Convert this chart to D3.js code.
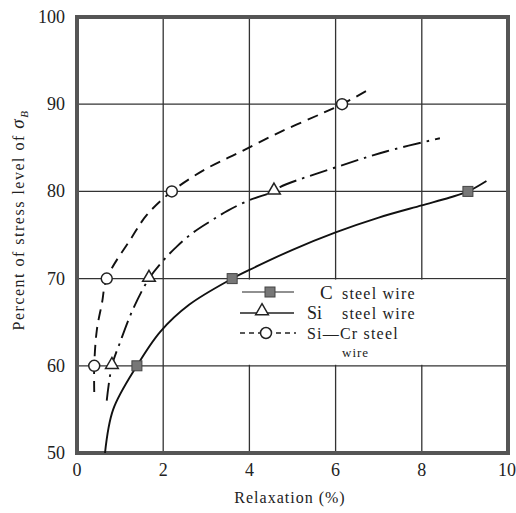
<!DOCTYPE html>
<html>
<head>
<meta charset="utf-8">
<script src="https://cdn.jsdelivr.net/npm/d3@7"></script>
<style>
  body { margin: 0; background: #fff; }
  svg text { font-family: "Times New Roman", "Liberation Serif", "Nimbus Roman", "DejaVu Serif", Times, serif; }
</style>
</head>
<body>
<div id="chart"></div>
<script>
// tick labels
const xTicks = [0, 2, 4, 6, 8, 10];
const yTicks = [50, 60, 70, 80, 90, 100];

// measured points (markers)
const cPoints = [[1.39, 60], [3.6, 70], [9.07, 80]];
const siPoints = [[0.81, 60], [1.67, 70], [4.57, 80]];
const sicrPoints = [[0.4, 60], [0.69, 70], [2.2, 80], [6.15, 90]];

// fitted curves
const cCurve = [[0.65, 50], [0.84, 55], [1.39, 60], [1.93, 63.9], [2.6, 67], [3.6, 70], [4.0, 71], [5.0, 73.3], [6.0, 75.3], [7.0, 77.0], [8.0, 78.4], [8.65, 79.3], [9.07, 80], [9.5, 81.2]];
const siCurve = [[0.69, 56], [0.81, 60], [1.0, 62.7], [1.3, 66.5], [1.67, 70], [1.97, 71.9], [2.32, 73.7], [2.7, 75.3], [3.1, 76.6], [3.5, 77.8], [4.0, 79], [4.57, 80], [4.71, 80.5], [6.03, 82.8], [7.19, 84.6], [8.42, 86.1]];
const sicrCurve = [[0.4, 57], [0.4, 60], [0.46, 64.1], [0.58, 67.2], [0.69, 70], [1.28, 74.8], [1.62, 77.3], [2.2, 80], [3.0, 82.6], [3.78, 84.5], [4.71, 86.8], [5.71, 89], [6.15, 90], [6.78, 91.7]];

const width = 516, height = 513;
const svg = d3.select("#chart").append("svg")
  .attr("width", width).attr("height", height);

const x = d3.scaleLinear().domain([0, 10]).range([77, 508]);
const y = d3.scaleLinear().domain([50, 100]).range([453, 17]);

// grid
svg.append("g").selectAll("line").data(xTicks.slice(1, -1)).enter().append("line")
  .attr("x1", d => x(d)).attr("x2", d => x(d))
  .attr("y1", y(100)).attr("y2", y(50))
  .attr("stroke", "#333").attr("stroke-width", 1.3);
svg.append("g").selectAll("line").data(yTicks.slice(1, -1)).enter().append("line")
  .attr("x1", x(0)).attr("x2", x(10))
  .attr("y1", d => y(d)).attr("y2", d => y(d))
  .attr("stroke", "#333").attr("stroke-width", 1.3);

// legend background covers grid
svg.append("rect")
  .attr("x", 238).attr("y", y(70) + 1)
  .attr("width", x(10) - 238).attr("height", y(60) - y(70) - 2)
  .attr("fill", "#fff");

// frame
svg.append("rect")
  .attr("x", x(0)).attr("y", y(100))
  .attr("width", x(10) - x(0)).attr("height", y(50) - y(100))
  .attr("fill", "none").attr("stroke", "#555").attr("stroke-width", 4);

// tick labels
svg.append("g").selectAll("text").data(xTicks).enter().append("text")
  .attr("x", d => x(d)).attr("y", 476)
  .attr("text-anchor", d => d === 10 ? "end" : "middle")
  .attr("dx", d => d === 10 ? 8 : 0)
  .attr("fill", "#222")
  .style("font-size", "18px")
  .text(d => d);
svg.append("g").selectAll("text").data(yTicks).enter().append("text")
  .attr("x", 65).attr("y", d => y(d) + 6)
  .attr("text-anchor", "end")
  .attr("fill", "#222")
  .style("font-size", "18px")
  .text(d => d);

// axis titles
svg.append("text")
  .attr("x", 290).attr("y", 503)
  .attr("text-anchor", "middle")
  .attr("fill", "#222")
  .style("font-size", "16px")
  .style("letter-spacing", "1px")
  .text("Relaxation (%)");

const yt = svg.append("text")
  .attr("transform", "translate(24,220) rotate(-90)")
  .attr("text-anchor", "middle")
  .attr("fill", "#222")
  .style("font-size", "16px")
  .style("letter-spacing", "1.5px");
yt.append("tspan").text("Percent of stress level of ");
yt.append("tspan").style("font-style", "italic").style("font-size", "19px").text("σ");
yt.append("tspan").style("font-style", "italic").style("font-size", "11px").attr("dy", 4).text("B");

// curves
const line = d3.line().x(d => x(d[0])).y(d => y(d[1])).curve(d3.curveCatmullRom.alpha(0.5));
const series = [
  { curve: cCurve, dash: null },
  { curve: siCurve, dash: "18,6,2.5,6" },
  { curve: sicrCurve, dash: "11,7" }
];
series.forEach(s => {
  svg.append("path").datum(s.curve)
    .attr("d", line)
    .attr("fill", "none")
    .attr("stroke", "#111")
    .attr("stroke-width", 1.9)
    .attr("stroke-dasharray", s.dash);
});

// markers
function square(g, cx, cy) {
  g.append("rect").attr("x", cx - 5).attr("y", cy - 5).attr("width", 10).attr("height", 10)
    .attr("fill", "#777").attr("stroke", "#444").attr("stroke-width", 1);
}
function triangle(g, cx, cy) {
  g.append("path")
    .attr("d", d3.symbol().type(d3.symbolTriangle).size(70)())
    .attr("transform", `translate(${cx},${cy - 1})`)
    .attr("fill", "#fff").attr("stroke", "#222").attr("stroke-width", 1.5);
}
function circle(g, cx, cy) {
  g.append("circle").attr("cx", cx).attr("cy", cy).attr("r", 5.5)
    .attr("fill", "#fff").attr("stroke", "#222").attr("stroke-width", 1.5);
}
const mk = svg.append("g");
cPoints.forEach(d => square(mk, x(d[0]), y(d[1])));
siPoints.forEach(d => triangle(mk, x(d[0]), y(d[1])));
sicrPoints.forEach(d => circle(mk, x(d[0]), y(d[1])));

// legend
const lg = svg.append("g").attr("fill", "#222");
lg.append("line").attr("x1", 242).attr("x2", 294).attr("y1", 292).attr("y2", 292)
  .attr("stroke", "#222").attr("stroke-width", 1.2);
square(lg, 270, 292);
lg.append("line").attr("x1", 240).attr("x2", 294).attr("y1", 313).attr("y2", 313)
  .attr("stroke", "#222").attr("stroke-width", 1.4);
triangle(lg, 262, 312);
lg.append("line").attr("x1", 240).attr("x2", 296).attr("y1", 333).attr("y2", 333)
  .attr("stroke", "#222").attr("stroke-width", 1.4).attr("stroke-dasharray", "5,4");
circle(lg, 266, 333);

lg.append("text").attr("x", 320).attr("y", 299).style("font-size", "19px").text("C");
lg.append("text").attr("x", 342).attr("y", 299).style("font-size", "16px").style("letter-spacing", "1.2px").text("steel wire");
lg.append("text").attr("x", 307).attr("y", 319).style("font-size", "18px").text("Si");
lg.append("text").attr("x", 342).attr("y", 319).style("font-size", "16px").style("letter-spacing", "1.2px").text("steel wire");
lg.append("text").attr("x", 307).attr("y", 339).style("font-size", "16px").style("letter-spacing", "1.2px").text("Si—Cr steel");
lg.append("text").attr("x", 342).attr("y", 357).style("font-size", "13px").style("letter-spacing", "1px").text("wire");
</script>
</body>
</html>
